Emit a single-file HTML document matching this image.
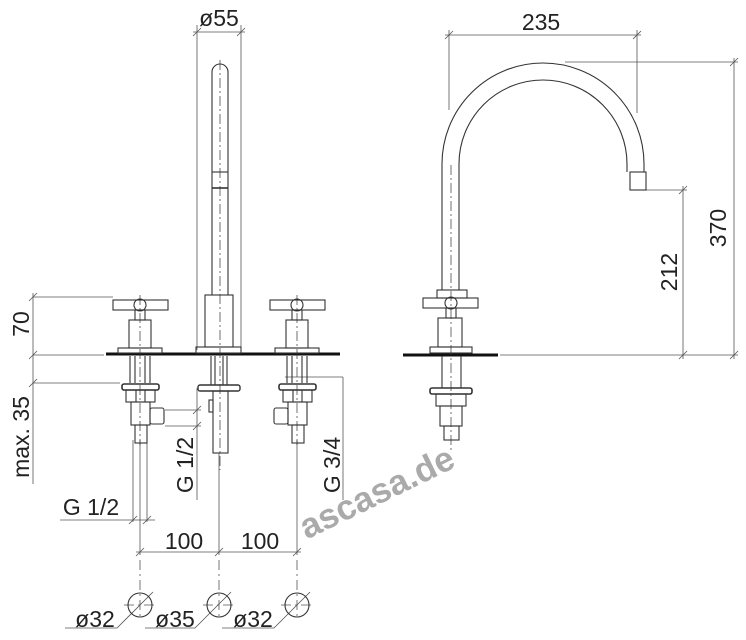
<!DOCTYPE html>
<html><head><meta charset="utf-8"><style>
html,body{margin:0;padding:0;background:#fff}
svg{display:block}
text{font-family:"Liberation Sans",sans-serif;fill:#222;font-size:23px}
</style></head><body>
<svg width="746" height="640" viewBox="0 0 746 640" xmlns="http://www.w3.org/2000/svg">
<g fill="none" stroke="#333" stroke-width="1.1">
<g stroke="#555" stroke-width="0.8">
 <line x1="33" y1="293" x2="33" y2="484"/>
 <line x1="33" y1="297" x2="113" y2="297"/>
 <line x1="33" y1="355" x2="104" y2="355"/>
 <line x1="33" y1="383" x2="120" y2="383"/>
 <path d="M29 301l8-8M29 359l8-8M29 387l8-8"/>
 <line x1="197" y1="25" x2="197" y2="350"/>
 <line x1="241" y1="25" x2="241" y2="350"/>
 <line x1="193" y1="32" x2="245" y2="32"/>
 <path d="M193 36l8-8M237 36l8-8"/>
 <line x1="197" y1="388" x2="197" y2="500"/>
 <line x1="165" y1="410" x2="201" y2="410"/>
 <line x1="165" y1="426" x2="201" y2="426"/>
 <path d="M193 414l8-8M193 430l8-8"/>
 <line x1="343" y1="377" x2="343" y2="500"/>
 <line x1="285" y1="377" x2="343" y2="377"/>
 <line x1="60" y1="520" x2="155" y2="520"/>
 <line x1="133" y1="440" x2="133" y2="522"/>
 <line x1="147" y1="440" x2="147" y2="522"/>
 <path d="M129 524l8-8M143 524l8-8"/>
 <line x1="140" y1="440" x2="140" y2="555"/>
 <line x1="219" y1="453" x2="219" y2="555"/>
 <line x1="297" y1="440" x2="297" y2="555"/>
 <line x1="136" y1="552" x2="301" y2="552"/>
 <path d="M136 556l8-8M215 556l8-8M293 556l8-8"/>
 <g stroke-dasharray="10,4,2,4">
  <line x1="140" y1="560" x2="140" y2="620"/>
  <line x1="219" y1="560" x2="219" y2="620"/>
  <line x1="297" y1="560" x2="297" y2="620"/>
  <line x1="124" y1="605" x2="158" y2="605"/>
  <line x1="203" y1="605" x2="237" y2="605"/>
  <line x1="281" y1="605" x2="315" y2="605"/>
 </g>
 <path d="M65 628h52l36-36M145 628h50l36-36M222 628h52l36-36"/>
 <line x1="449" y1="30" x2="449" y2="110"/>
 <line x1="637" y1="30" x2="637" y2="113"/>
 <line x1="445" y1="35" x2="641" y2="35"/>
 <path d="M445 39l8-8M633 39l8-8"/>
 <line x1="565" y1="62" x2="738" y2="62"/>
 <line x1="500" y1="355" x2="738" y2="355"/>
 <line x1="734" y1="58" x2="734" y2="359"/>
 <path d="M730 66l8-8M730 359l8-8"/>
 <line x1="646" y1="190" x2="687" y2="190"/>
 <line x1="683" y1="186" x2="683" y2="359"/>
 <path d="M679 194l8-8M679 359l8-8"/>
</g>
<circle cx="140" cy="605" r="12"/>
<circle cx="219" cy="605" r="12"/>
<circle cx="297" cy="605" r="12"/>
<line x1="106" y1="354" x2="340" y2="354" stroke="#111" stroke-width="3"/>
<line x1="403" y1="355" x2="498" y2="355" stroke="#111" stroke-width="3"/>
<path d="M212 295V72a8 8 0 0 1 16 0V295"/>
<line x1="212" y1="172" x2="228" y2="172"/>
<line x1="212" y1="188" x2="228" y2="188" stroke-width="1.6"/>
<rect x="205" y="295" width="28" height="52"/>
<rect x="196" y="347" width="45" height="6"/>
<line x1="211" y1="356" x2="211" y2="385"/><line x1="227" y1="356" x2="227" y2="385"/>
<line x1="215" y1="356" x2="215" y2="385"/><line x1="223" y1="356" x2="223" y2="385"/>
<rect x="198" y="385" width="42" height="6" rx="2" stroke-width="1.4"/>
<rect x="213" y="391" width="15" height="62"/>
<rect x="209" y="400" width="4" height="12"/>
<line x1="220" y1="60" x2="220" y2="470" stroke-dasharray="10,3,2,3" stroke-width="0.7"/>
<g id="v">
 <rect x="113" y="300" width="55" height="10"/>
 <circle cx="140" cy="305" r="6"/>
 <rect x="135" y="310" width="10" height="10"/>
 <rect x="129" y="320" width="22" height="28"/>
 <rect x="118" y="348" width="44" height="5"/>
 <line x1="130" y1="356" x2="130" y2="383"/><line x1="150" y1="356" x2="150" y2="383"/>
 <line x1="135" y1="356" x2="135" y2="383"/><line x1="145" y1="356" x2="145" y2="383"/>
 <rect x="122" y="384" width="37" height="6" rx="2" stroke-width="1.6"/>
 <rect x="126" y="390" width="29" height="12"/>
 <line x1="136" y1="390" x2="136" y2="402"/><line x1="145" y1="390" x2="145" y2="402"/>
 <rect x="131" y="402" width="19" height="23"/>
 <rect x="135" y="425" width="12" height="18"/>
 <line x1="140" y1="295" x2="140" y2="445" stroke-dasharray="10,3,2,3" stroke-width="0.7"/>
</g>
<rect x="150" y="408" width="14" height="16" rx="2"/>
<use href="#v" transform="translate(157,0)"/>
<rect x="274" y="408" width="14" height="16" rx="2"/>
<path d="M442 290V164a101 101 0 0 1 202 0V172M459 290V164a84 84 0 0 1 168 0V172"/>
<rect x="630" y="172" width="16" height="18"/>
<rect x="437" y="290" width="30" height="8"/>
<rect x="423" y="298" width="55" height="10"/>
<circle cx="451" cy="303" r="6"/>
<rect x="446" y="308" width="10" height="10"/>
<rect x="438" y="318" width="24" height="29"/>
<rect x="430" y="347" width="42" height="6"/>
<line x1="442" y1="356" x2="442" y2="388"/><line x1="461" y1="356" x2="461" y2="388"/>
<rect x="430" y="388" width="42" height="6" rx="2" stroke-width="1.6"/>
<rect x="436" y="394" width="30" height="12"/>
<rect x="440" y="406" width="22" height="20"/>
<rect x="444" y="426" width="15" height="14"/>
<line x1="451" y1="165" x2="451" y2="450" stroke-dasharray="10,3,2,3" stroke-width="0.7"/>
</g>
<text x="219" y="26" text-anchor="middle">ø55</text>
<text x="541" y="30" text-anchor="middle">235</text>
<text transform="translate(726,228) rotate(-90)" text-anchor="middle">370</text>
<text transform="translate(677,272) rotate(-90)" text-anchor="middle">212</text>
<text transform="translate(29,324) rotate(-90)" text-anchor="middle">70</text>
<text transform="translate(29,437) rotate(-90)" text-anchor="middle">max. 35</text>
<text transform="translate(193,465) rotate(-90)" text-anchor="middle">G 1/2</text>
<text transform="translate(340,465) rotate(-90)" text-anchor="middle">G 3/4</text>
<text x="91" y="515" text-anchor="middle">G 1/2</text>
<text x="184" y="549" text-anchor="middle">100</text>
<text x="260" y="549" text-anchor="middle">100</text>
<text x="95" y="627" text-anchor="middle">ø32</text>
<text x="175" y="627" text-anchor="middle">ø35</text>
<text x="253" y="627" text-anchor="middle">ø32</text>
<text transform="translate(382,503) rotate(-26)" text-anchor="middle" style="font-size:35px;font-weight:bold;fill:#aaa">ascasa.de</text>
</svg>
</body></html>
